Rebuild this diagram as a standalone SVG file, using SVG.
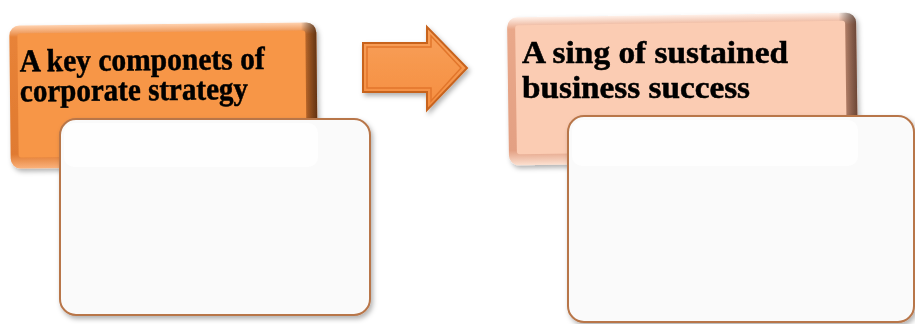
<svg xmlns="http://www.w3.org/2000/svg" width="915" height="324" viewBox="0 0 915 324">
<defs>
<style>
.title{font-family:"Liberation Serif","Times New Roman",serif;font-weight:bold;font-size:32px;fill:#000;stroke:#000;stroke-width:0.5}
.card{fill:#FAFAFA;stroke:#B8764A;stroke-width:2}
.gloss{fill:#FEFEFE}
</style>
<filter id="sh" x="-10%" y="-10%" width="125%" height="130%">
<feDropShadow dx="2" dy="3" stdDeviation="2.5" flood-color="#000" flood-opacity="0.3"/>
</filter>
<linearGradient id="orV" x1="0" y1="0" x2="0" y2="1">
<stop offset="0" stop-color="#FFD2B0"/>
<stop offset="0.08" stop-color="#E88338"/>
<stop offset="0.9" stop-color="#E07A30"/>
<stop offset="1" stop-color="#FBB27C"/>
</linearGradient>
<linearGradient id="orH" x1="0" y1="0" x2="1" y2="0">
<stop offset="0" stop-color="#000" stop-opacity="0"/>
<stop offset="0.95" stop-color="#000" stop-opacity="0"/>
<stop offset="1" stop-color="#3A1A05" stop-opacity="0.75"/>
</linearGradient>
<linearGradient id="pkV" x1="0" y1="0" x2="0" y2="1">
<stop offset="0" stop-color="#FFF0E8"/>
<stop offset="0.08" stop-color="#E9A88A"/>
<stop offset="0.9" stop-color="#E3A083"/>
<stop offset="1" stop-color="#FCE0D0"/>
</linearGradient>
<linearGradient id="pkH" x1="0" y1="0" x2="1" y2="0">
<stop offset="0" stop-color="#000" stop-opacity="0"/>
<stop offset="0.95" stop-color="#000" stop-opacity="0"/>
<stop offset="1" stop-color="#3A2015" stop-opacity="0.7"/>
</linearGradient>
<linearGradient id="arr" x1="0" y1="0" x2="0" y2="1">
<stop offset="0" stop-color="#F8A05A"/>
<stop offset="1" stop-color="#F58E40"/>
</linearGradient>
</defs>

<g id="node-left-title" filter="url(#sh)">
<g transform="rotate(-0.6 163 96)">
<rect x="10" y="24" width="307" height="143" rx="10" fill="url(#orV)"/>
<rect x="10" y="24" width="307" height="143" rx="10" fill="url(#orH)"/>
<rect x="18" y="32" width="288" height="124" rx="3" fill="#F79646"/>
<text class="title" x="20" y="70" textLength="245" lengthAdjust="spacingAndGlyphs">A key componets of</text>
<text class="title" x="20" y="100" textLength="228" lengthAdjust="spacingAndGlyphs">corporate strategy</text>
</g>
</g>

<g id="node-left-card" filter="url(#sh)">
<rect class="card" x="60" y="119" width="310" height="196" rx="16"/>
<rect class="gloss" x="64" y="123" width="254" height="44" rx="10"/>
</g>

<g id="node-right-title" filter="url(#sh)">
<g transform="rotate(-0.8 682 88)">
<rect x="508" y="15" width="349" height="148" rx="10" fill="url(#pkV)"/>
<rect x="508" y="15" width="349" height="148" rx="10" fill="url(#pkH)"/>
<rect x="516" y="23" width="330" height="129" rx="3" fill="#FBCCB3"/>
</g>
<text class="title" x="522" y="63" textLength="266" lengthAdjust="spacingAndGlyphs">A sing of sustained</text>
<text class="title" x="522" y="98" textLength="228" lengthAdjust="spacingAndGlyphs">business success</text>
</g>

<g id="node-right-card" filter="url(#sh)">
<rect class="card" x="568" y="116" width="346" height="206" rx="16"/>
<rect class="gloss" x="572" y="120" width="286" height="46" rx="10"/>
</g>

<g id="connectors">
<g id="arrow" filter="url(#sh)">
<polygon points="363,43 427,43 427,27 467,68 427,110 427,92 363,92" fill="url(#arr)" stroke="#C8631F" stroke-width="2" stroke-linejoin="miter"/>
<polygon points="367,47 431,47 431,36 461,68 431,101 431,88 367,88" fill="none" stroke="#E2762C" stroke-width="1.5"/>
</g>
</g>
</svg>
